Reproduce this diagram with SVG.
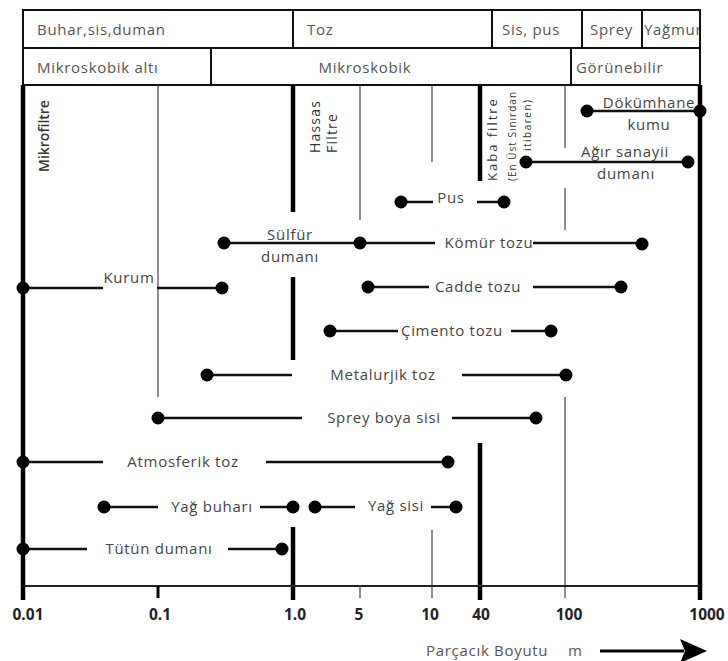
<svg xmlns="http://www.w3.org/2000/svg" width="728" height="661" viewBox="0 0 728 661">
<defs>
<style>
.hd{font-family:"Open Sans","DejaVu Sans",sans-serif;font-size:15px;letter-spacing:0.7px;fill:#555}
.lb{font-family:"Open Sans","DejaVu Sans",sans-serif;font-size:15px;letter-spacing:0.7px;fill:#444;text-anchor:middle}
.vt{font-family:"Open Sans","DejaVu Sans",sans-serif;fill:#333}
.ax{font-family:"Open Sans","DejaVu Sans",sans-serif;font-size:15.5px;font-weight:bold;fill:#222;text-anchor:middle}
.box{fill:none;stroke:#111;stroke-width:2}
.rng{stroke:#111;stroke-width:2.5;fill:none}
.thin{stroke:#444;stroke-width:1.2}
.thick{stroke:#000;stroke-width:4.5}
.dot{fill:#000}
</style>
<clipPath id="hclip"><rect x="23" y="10" width="676" height="75"/></clipPath>
</defs>
<rect width="728" height="661" fill="#fff"/>

<g id="header">
<rect class="box" x="23" y="10" width="677" height="75"/>
<line class="box" x1="23" y1="48" x2="700" y2="48"/>
<line class="box" x1="293" y1="10" x2="293" y2="48"/>
<line class="box" x1="492" y1="10" x2="492" y2="48"/>
<line class="box" x1="582" y1="10" x2="582" y2="48"/>
<line class="box" x1="642" y1="10" x2="642" y2="48"/>
<line class="box" x1="211" y1="48" x2="211" y2="85"/>
<line class="box" x1="571" y1="48" x2="571" y2="85"/>
<g clip-path="url(#hclip)">
<text class="hd" x="37" y="35">Buhar,sis,duman</text>
<text class="hd" x="307" y="35">Toz</text>
<text class="hd" x="502" y="35">Sis, pus</text>
<text class="hd" x="590" y="35" letter-spacing="0">Sprey</text>
<text class="hd" x="644" y="35" letter-spacing="0">Yağmur</text>
<text class="hd" x="37" y="73">Mikroskobik altı</text>
<text class="hd" x="365" y="73" text-anchor="middle">Mikroskobik</text>
<text class="hd" x="576" y="73">Görünebilir</text>
</g>
</g>

<g id="grid">
<line class="thick" x1="23" y1="85" x2="23" y2="600" stroke-width="5"/>
<line class="thick" x1="700" y1="85" x2="700" y2="600"/>
<line class="thin" x1="158" y1="85" x2="158" y2="397"/>
<line class="thin" x1="360" y1="85" x2="360" y2="220"/>
<line class="thin" x1="432" y1="85" x2="432" y2="162"/>
<line class="thin" x1="432" y1="530" x2="432" y2="598"/>
<line class="thin" x1="565" y1="85" x2="565" y2="148"/>
<line class="thin" x1="565" y1="188" x2="565" y2="230"/>
<line class="thin" x1="565" y1="397" x2="565" y2="598"/>
<line class="thick" x1="293" y1="85" x2="293" y2="212"/>
<line class="thick" x1="293" y1="277" x2="293" y2="360"/>
<line class="thick" x1="293" y1="527" x2="293" y2="600"/>
<line class="thick" x1="480" y1="85" x2="480" y2="181"/>
<line class="thick" x1="480" y1="443" x2="480" y2="600"/>
</g>

<g id="filters">
<text class="vt" font-size="14" font-weight="600" transform="translate(49,172) rotate(-90)">Mikrofiltre</text>
<text class="vt" font-size="14" letter-spacing="1.2" transform="translate(320,153) rotate(-90)">Hassas</text>
<text class="vt" font-size="14" letter-spacing="1.2" transform="translate(337,153) rotate(-90)">Filtre</text>
<text class="vt" font-size="13" letter-spacing="2" transform="translate(497,181) rotate(-90)">Kaba filtre</text>
<text class="vt" font-size="10" letter-spacing="1" transform="translate(516,181) rotate(-90)">(En Üst Sınırdan</text>
<text class="vt" font-size="10" letter-spacing="1.5" transform="translate(531,151) rotate(-90)">itibaren)</text>
</g>

<g id="connectors">
<path class="rng" d="M587 111H700"/>
<path class="rng" d="M526 162H688"/>
<path class="rng" d="M401 202H433M477 202H504"/>
<path class="rng" d="M224 243H435M533 243H642"/>
<path class="rng" d="M23 288H103M157 288H222"/>
<path class="rng" d="M368 287H429M533 287H621"/>
<path class="rng" d="M330 331H398M511 331H551"/>
<path class="rng" d="M207 375H292M462 375H566"/>
<path class="rng" d="M158 418H302M452 418H536"/>
<path class="rng" d="M23 462H103M266 462H448"/>
<path class="rng" d="M104 507H158M260 507H293"/>
<path class="rng" d="M315 507H355M431 507H456"/>
<path class="rng" d="M23 549H87M228 549H282"/>
</g>

<g id="dokumhane-kumu"><circle class="dot" cx="587" cy="111" r="6.5"/><circle class="dot" cx="700" cy="111" r="6.5"/><text class="lb" x="649" y="108">Dökümhane</text><text class="lb" x="649" y="130">kumu</text></g>
<g id="agir-sanayii"><circle class="dot" cx="526" cy="162" r="6.5"/><circle class="dot" cx="688" cy="162" r="6.5"/><text class="lb" x="625" y="157">Ağır sanayii</text><text class="lb" x="626" y="179">dumanı</text></g>
<g id="pus"><circle class="dot" cx="401" cy="202" r="6.5"/><circle class="dot" cx="504" cy="202" r="6.5"/><text class="lb" x="451" y="203">Pus</text></g>
<g id="sulfur"><circle class="dot" cx="224" cy="243" r="6.5"/><circle class="dot" cx="360" cy="243" r="6.5"/><text class="lb" x="290" y="240">Sülfür</text><text class="lb" x="290" y="262">dumanı</text></g>
<g id="komur-tozu"><circle class="dot" cx="642" cy="244" r="6.5"/><text class="lb" x="489" y="248">Kömür tozu</text></g>
<g id="kurum"><circle class="dot" cx="23" cy="288" r="6.5"/><circle class="dot" cx="222" cy="288" r="6.5"/><text class="lb" x="129" y="283">Kurum</text></g>
<g id="cadde-tozu"><circle class="dot" cx="368" cy="287" r="6.5"/><circle class="dot" cx="621" cy="287" r="6.5"/><text class="lb" x="478" y="292">Cadde tozu</text></g>
<g id="cimento-tozu"><circle class="dot" cx="330" cy="331" r="6.5"/><circle class="dot" cx="551" cy="331" r="6.5"/><text class="lb" x="452" y="336">Çimento tozu</text></g>
<g id="metalurjik-toz"><circle class="dot" cx="207" cy="375" r="6.5"/><circle class="dot" cx="566" cy="375" r="6.5"/><text class="lb" x="383" y="380">Metalurjik toz</text></g>
<g id="sprey-boya"><circle class="dot" cx="158" cy="418" r="6.5"/><circle class="dot" cx="536" cy="418" r="6.5"/><text class="lb" x="384" y="423">Sprey boya sisi</text></g>
<g id="atmosferik-toz"><circle class="dot" cx="23" cy="462" r="6.5"/><circle class="dot" cx="448" cy="462" r="6.5"/><text class="lb" x="183" y="467">Atmosferik toz</text></g>
<g id="yag-buhari"><circle class="dot" cx="104" cy="507" r="6.5"/><circle class="dot" cx="293" cy="507" r="6.5"/><text class="lb" x="212" y="512">Yağ buharı</text></g>
<g id="yag-sisi"><circle class="dot" cx="315" cy="507" r="6.5"/><circle class="dot" cx="456" cy="507" r="6.5"/><text class="lb" x="396" y="511">Yağ sisi</text></g>
<g id="tutun-dumani"><circle class="dot" cx="23" cy="549" r="6.5"/><circle class="dot" cx="282" cy="549" r="6.5"/><text class="lb" x="159" y="554">Tütün dumanı</text></g>

<g id="axis">
<line x1="23" y1="586" x2="700" y2="586" stroke="#222" stroke-width="2"/>
<line x1="158" y1="586" x2="158" y2="598" stroke="#000" stroke-width="3"/>
<line x1="360" y1="586" x2="360" y2="598" stroke="#444" stroke-width="1.2"/>
<text class="ax" x="28" y="620">0.01</text>
<text class="ax" x="160" y="620">0.1</text>
<text class="ax" x="295" y="620">1.0</text>
<text class="ax" x="359" y="620">5</text>
<text class="ax" x="430" y="620">10</text>
<text class="ax" x="481" y="620">40</text>
<text class="ax" x="569" y="620">100</text>
<text class="ax" x="707" y="620">1000</text>
<text class="hd" x="426" y="656">Parçacık Boyutu</text>
<text class="hd" x="568" y="656">m</text>
<line x1="600" y1="651" x2="684" y2="651" stroke="#000" stroke-width="3"/>
<polygon points="680,639 707,651 680,663 685,651" fill="#000"/>
</g>
</svg>
